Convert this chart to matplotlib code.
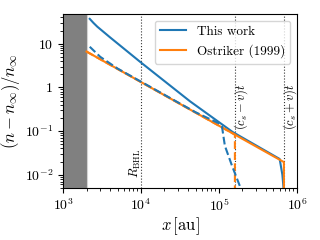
import numpy as np
import matplotlib
matplotlib.use("Agg")
import matplotlib.pyplot as plt

plt.rcParams["font.family"] = "serif"
plt.rcParams["font.serif"] = ["cmr10"]
plt.rcParams["mathtext.fontset"] = "cm"
plt.rcParams["axes.formatter.use_mathtext"] = True
plt.rcParams["axes.unicode_minus"] = False

# values (x in au)
x_this_back = [2200, 2450, 2750, 4000, 10000, 42500, 150000, 600000, 650000, 690000]
y_this_back = [37, 30, 24.5, 14, 3.7, 0.48, 0.095, 0.023, 0.01, 0.003]
x_this_front = [2200, 3000, 5000, 10000, 50000, 100000, 109000, 119000, 147000, 186000]
y_this_front = [8.5, 5.0, 2.7, 1.35, 0.27, 0.15, 0.13, 0.046, 0.016, 0.0054]
x_ost_back = [2000, 680000, 680000]
y_ost_back = [6.6, 0.0195, 0.001]
x_ost_front = [2000, 160000, 160000]
y_ost_front = [6.6, 0.083, 0.001]

x_inner = [1e3, 2e3]
r_bhl = 1e4
x_front = 1.6e5
x_back = 6.8e5

fig, ax = plt.subplots(figsize=(3.2, 2.4), dpi=100)
fig.subplots_adjust(left=0.197, right=0.928, top=0.942, bottom=0.217)

ax.axvspan(x_inner[0], x_inner[1], facecolor="gray", edgecolor="lightgray", lw=0.8)
for xv in [r_bhl, x_front, x_back]:
    ax.axvline(xv, color="k", ls=":", lw=0.8, alpha=0.8)

ax.plot(x_this_back, y_this_back, color="C0", lw=1.5, label="This work")
ax.plot(x_ost_back, y_ost_back, color="C1", lw=1.5, label="Ostriker (1999)")
ax.plot(x_ost_front, y_ost_front, color="C1", lw=1.5, ls="--")
ax.plot(x_this_front, y_this_front, color="C0", lw=1.5, ls="--")

ax.text(8.6e3, 0.018, r"$R_\mathrm{BHL}$", rotation=90, ha="center", va="center", fontsize=9)
ax.text(1.9e5, 0.36, r"$(c_s-v)t$", rotation=90, ha="center", va="center", fontsize=9)
ax.text(8.1e5, 0.36, r"$(c_s+v)t$", rotation=90, ha="center", va="center", fontsize=9)

ax.set_xscale("log")
ax.set_yscale("log")
ax.set_xlim(1e3, 1e6)
ax.set_ylim(5e-3, 48)
ax.set_yticks([1e-2, 1e-1, 1, 10])
ax.set_yticklabels([r"$10^{-2}$", r"$10^{-1}$", r"$1$", r"$10$"])
ax.tick_params(labelsize=10)
ax.set_xlabel(r"$x\,[\mathrm{au}]$", fontsize=12, labelpad=1)
ax.set_ylabel(r"$(n-n_\infty)/n_\infty$", fontsize=12, labelpad=2)
ax.legend(loc="upper right", fontsize=9.5, framealpha=0.8)

fig.savefig("out.png", dpi=100)
